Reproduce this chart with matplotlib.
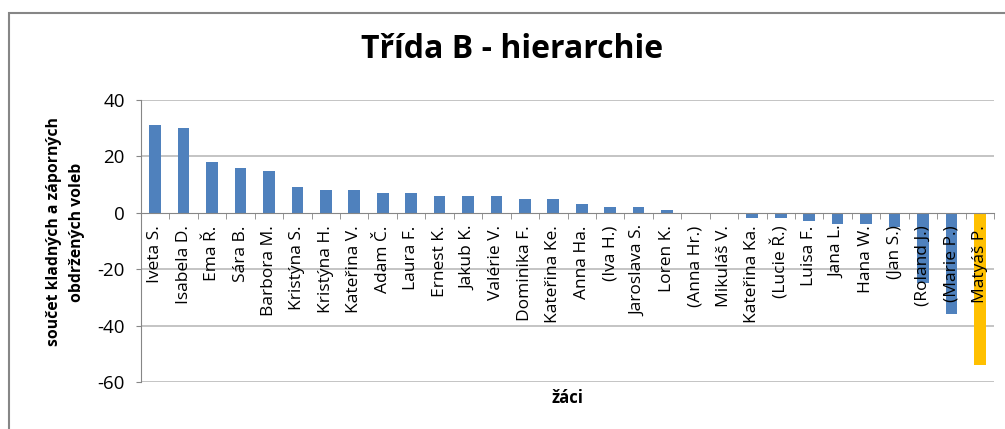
import matplotlib
matplotlib.use("Agg")
import matplotlib.pyplot as plt
from matplotlib.patches import Rectangle
import numpy as np

students = ["Iveta S.", "Isabela D.", "Ema Ř.", "Sára B.", "Barbora M.", "Kristýna S.",
            "Kristýna H.", "Kateřina V.", "Adam Č.", "Laura F.", "Ernest K.", "Jakub K.",
            "Valérie V.", "Dominika F.", "Kateřina Ke.", "Anna Ha.", "(Iva H.)", "Jaroslava S.",
            "Loren K.", "(Anna Hr.)", "Mikuláš V.", "Kateřina Ka.", "(Lucie Ř.)", "Luisa F.",
            "Jana L.", "Hana W.", "(Jan S.)", "(Roland J.)", "(Marie P.)", "Matyáš P."]
scores = [31, 30, 18, 16, 15, 9, 8, 8, 7, 7, 6, 6, 6, 5, 5, 3, 2, 2, 1, 0, 0,
          -2, -2, -3, -4, -4, -5, -25, -36, -54]
highlight = "Matyáš P."
yticks = [-60, -40, -20, 0, 20, 40]

plt.rcParams['font.family'] = ['Open Sans', 'DejaVu Sans']

fig = plt.figure(figsize=(10.05, 4.29), dpi=100)
fig.patches.append(Rectangle((9/1005, -0.1), 1.2, 1 - 13/429 + 0.1, transform=fig.transFigure,
                             fill=False, edgecolor='#868686', linewidth=1.5))

ax = fig.add_axes([141/1005, 1 - 382/429, 853/1005, 282/429])
ax.spines['bottom'].set_position(('data', 0))
ax.spines['bottom'].set_color('#868686')
ax.spines['left'].set_color('#868686')
ax.spines['top'].set_visible(False)
ax.spines['right'].set_visible(False)

x = np.arange(len(students))
colors = ['#FFC000' if s == highlight else '#4F81BD' for s in students]
ax.bar(x, scores, width=0.41, color=colors, zorder=1)

ax.set_xlim(-0.5, len(students) - 0.5)
ax.set_ylim(-60, 40)
for v in yticks:
    if v != 0:
        ax.axhline(v, color='#BFBFBF', linewidth=1.3, zorder=0.5)

ax.set_yticks(yticks)
ax.set_yticklabels([str(v) for v in yticks])
ax.set_xticks(np.arange(len(students) + 1) - 0.5, minor=True)
ax.set_xticks(x)
ax.set_xticklabels(students)

ax.tick_params(axis='y', length=3.6, color='#868686', pad=8, labelsize=13.5)
ax.tick_params(axis='x', which='major', length=0, pad=9, labelsize=12.5, labelrotation=90)
ax.tick_params(axis='x', which='minor', length=4, color='#868686')
for lbl in ax.get_xticklabels():
    lbl.set_va('top')
    lbl.set_ha('center')

ax.set_ylabel("součet kladných a záporných\nobdržených voleb", fontsize=11.3,
              fontweight='bold', linespacing=1.55)
ax.yaxis.set_label_coords(-56/853, (382 - 232) / 282)
fig.text(567/1005, 1 - 398/429, "žáci", fontsize=12, fontweight='bold', ha='center', va='center')
fig.text(512/1005, 1 - 50/429, "Třída B - hierarchie", fontsize=23, fontweight='bold',
         ha='center', va='center')

fig.savefig("out.png", dpi=100)
